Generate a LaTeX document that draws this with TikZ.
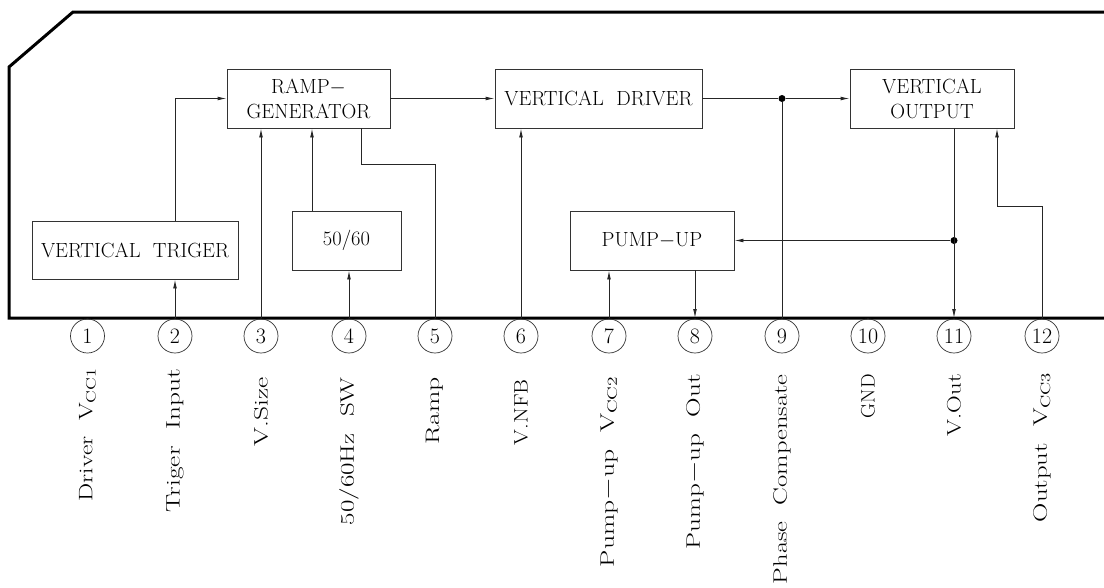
\documentclass[tikz,border=0pt]{standalone}
\usepackage{fontspec}
\usepackage{graphicx}
\usetikzlibrary{arrows.meta}
\tikzset{
  blk/.style={draw=black!80, line width=0.9pt, inner sep=0pt, align=center,
    font=\fontsize{20.5}{25}\selectfont},
  wire/.style={line width=0.9pt, draw=black!85},
  arr/.style={wire, -{Latex[length=9pt,width=3.8pt]}},
  pkg/.style={line width=3pt, line join=miter, draw=black},
  pinc/.style={circle, draw=black!80, line width=0.7pt, minimum size=34pt,
    inner sep=0pt, font=\fontsize{22}{22}\selectfont},
  lbl/.style={rotate=90, anchor=east, inner sep=0pt,
    font=\fontsize{19.5}{19.5}\selectfont},
  jdot/.style={circle, fill=black, minimum size=7pt, inner sep=0pt}
}
\begin{document}
\begin{tikzpicture}[x=1pt,y=-1pt]
\useasboundingbox (0,0) rectangle (1104,587);

% package outline
\draw[pkg] (1106,12) -- (73,12) -- (9,67) -- (9,318) -- (1106,318);

% blocks
\node[blk, minimum width=163pt, minimum height=59pt] (ramp) at (308.5,98.5) {RAMP$-$\\GENERATOR};
\node[blk, minimum width=207pt, minimum height=59pt] (drv) at (598.5,98.5) {VERTICAL\ \ DRIVER};
\node[blk, minimum width=164pt, minimum height=59pt] (out) at (932,98.5) {VERTICAL\\OUTPUT};
\node[blk, minimum width=206pt, minimum height=58pt] (trig) at (135,250) {VERTICAL\ \ TRIGER};
\node[blk, minimum width=109pt, minimum height=59pt] (sw) at (346.5,240.5) {50/60};
\node[blk, minimum width=164pt, minimum height=59pt] (pump) at (652,240.5) {PUMP$-$UP};

% pin connection points on package edge
\coordinate (b1) at (87.5,318);
\coordinate (b2) at (175,318);
\coordinate (b3) at (261,318);
\coordinate (b4) at (349,318);
\coordinate (b5) at (435,318);
\coordinate (b6) at (521,318);
\coordinate (b7) at (609,318);
\coordinate (b8) at (695,318);
\coordinate (b9) at (782,318);
\coordinate (b10) at (868,318);
\coordinate (b11) at (954,318);
\coordinate (b12) at (1042,318);

% pin circles
\node[pinc] (p1) at (87.5,336) {1};
\node[pinc] (p2) at (175,336) {2};
\node[pinc] (p3) at (261,336) {3};
\node[pinc] (p4) at (349,336) {4};
\node[pinc] (p5) at (435,336) {5};
\node[pinc] (p6) at (521,336) {6};
\node[pinc] (p7) at (609,336) {7};
\node[pinc] (p8) at (695,336) {8};
\node[pinc] (p9) at (782,336) {9};
\node[pinc] (p10) at (868,336) {10};
\node[pinc] (p11) at (954,336) {11};
\node[pinc] (p12) at (1042,336) {12};

% pin labels
\node[lbl] (l1) at (87.5,368) {\resizebox{133pt}{\height}{Driver\ \ V$_{\mathrm{CC1}}$}};
\node[lbl] (l2) at (175,369) {\resizebox{143pt}{\height}{Triger\ \ Input}};
\node[lbl] (l3) at (261,377) {\resizebox{69pt}{\height}{V.Size}};
\node[lbl] (l4) at (349,377) {\resizebox{148pt}{\height}{50/60Hz\ \ SW}};
\node[lbl] (l5) at (435,377) {\resizebox{67pt}{\height}{Ramp}};
\node[lbl] (l6) at (521,379) {\resizebox{66pt}{\height}{V.NFB}};
\node[lbl] (l7) at (609,376) {\resizebox{191pt}{\height}{Pump$-$up\ \ V$_{\mathrm{CC2}}$}};
\node[lbl] (l8) at (695,374) {\resizebox{175pt}{\height}{Pump$-$up\ \ Out}};
\node[lbl] (l9) at (782,374) {\resizebox{210pt}{\height}{Phase\ \ Compensate}};
\node[lbl] (l10) at (868,374) {\resizebox{44pt}{\height}{GND}};
\node[lbl] (l11) at (954,374) {\resizebox{62pt}{\height}{V.Out}};
\node[lbl] (l12) at (1042,372) {\resizebox{150pt}{\height}{Output\ \ V$_{\mathrm{CC3}}$}};

% junction dots
\node[jdot] (d9) at (782,98.5) {};
\node[jdot] (d11) at (954,240.5) {};

% helper coordinates
\coordinate (x312) at (312,0);
\coordinate (r5) at (361,164);
\coordinate (r12) at (997,206);

% connectors
\draw[arr] (trig.north -| b2) |- (ramp.west);
\draw[arr] (b2) -- (b2 |- trig.south);
\draw[arr] (b3) -- (b3 |- ramp.south);
\draw[arr] (sw.north -| x312) -- (ramp.south -| x312);
\draw[arr] (b4) -- (b4 |- sw.south);
\draw[wire] (ramp.south -| r5) -- (r5) -| (b5);
\draw[arr] (ramp.east) -- (drv.west);
\draw[arr] (b6) -- (b6 |- drv.south);
\draw[wire] (drv.east) -- (d9);
\draw[arr] (d9) -- (out.west);
\draw[wire] (d9) -- (b9);
\draw[arr] (b7) -- (b7 |- pump.south);
\draw[arr] (pump.south -| b8) -- (b8);
\draw[arr] (out.south -| b11) -- (b11);
\draw[arr] (d11) -- (pump.east);
\draw[arr] (b12) |- (r12) -- (r12 |- out.south);
\end{tikzpicture}
\end{document}
